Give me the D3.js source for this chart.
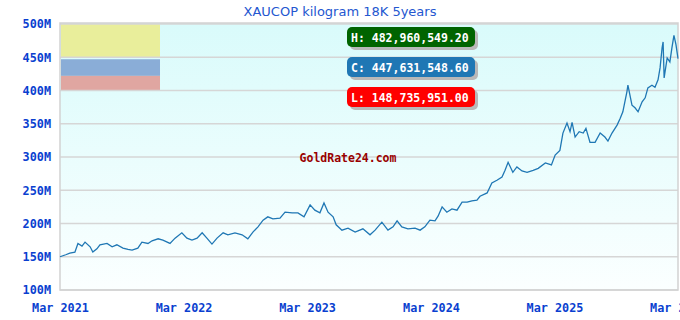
<!doctype html>
<html lang="en">
<head>
<meta charset="utf-8" />
<title>XAUCOP kilogram 18K 5years</title>
<script src="https://d3js.org/d3.v7.min.js"></script>
<style type="text/css">
body{
  margin: 0;
  background-color: #fff;
}
#svg_div{
  width: 680px;
  height: 320px;
}
</style>
</head>
<body>
<div id="svg_div"></div>

<script>
// price series, millions COP
var dates = ["2021-03-01","2021-03-18","2021-03-30","2021-04-14","2021-04-23","2021-05-05","2021-05-14","2021-05-29","2021-06-06","2021-06-18",
  "2021-06-27","2021-07-18","2021-08-02","2021-08-16","2021-09-03","2021-09-18","2021-09-30","2021-10-17","2021-10-29","2021-11-16",
  "2021-11-28","2021-12-16","2021-12-30","2022-01-20","2022-02-04","2022-02-24","2022-03-11","2022-03-26","2022-04-10","2022-04-25",
  "2022-05-09","2022-05-24","2022-06-08","2022-06-26","2022-07-10","2022-07-31","2022-08-21","2022-09-07","2022-09-22","2022-10-07",
  "2022-10-22","2022-11-05","2022-11-20","2022-12-11","2022-12-26","2023-01-16","2023-02-02","2023-02-20","2023-03-10","2023-03-24",
  "2023-04-08","2023-04-20","2023-05-02","2023-05-17","2023-05-26","2023-06-12","2023-06-30","2023-07-21","2023-08-13","2023-09-03",
  "2023-09-18","2023-10-08","2023-10-26","2023-11-10","2023-11-22","2023-12-06","2023-12-24","2024-01-14","2024-01-29","2024-02-12",
  "2024-02-27","2024-03-13","2024-03-22","2024-04-03","2024-04-17","2024-05-02","2024-05-17","2024-06-01","2024-06-16","2024-06-30",
  "2024-07-15","2024-07-24","2024-08-14","2024-08-28","2024-09-12","2024-09-27","2024-10-06","2024-10-15","2024-10-29","2024-11-10",
  "2024-11-25","2024-12-10","2024-12-28","2025-01-12","2025-02-02","2025-02-20","2025-03-03","2025-03-17","2025-03-26","2025-04-07",
  "2025-04-16","2025-04-22","2025-05-01","2025-05-13","2025-05-25","2025-06-02","2025-06-14","2025-06-29","2025-07-14","2025-07-28",
  "2025-08-06","2025-08-18","2025-09-02","2025-09-11","2025-09-19","2025-10-01","2025-10-04","2025-10-16","2025-10-25","2025-11-03",
  "2025-11-15","2025-11-24","2025-12-02","2025-12-14","2025-12-23","2026-01-01","2026-01-07","2026-01-13","2026-01-16","2026-01-19",
  "2026-01-28","2026-02-05","2026-02-11","2026-02-17","2026-02-23","2026-03-01"];
var prices = [150,153,155.5,157,170,166,172,165,157,162,
  168,170,165,168,163,161,160,163,172,170,
  174,177,175,170,178,186,178,175,178,186,
  178,169,178,186,183,186,183,177,187,195,
  205,210,207,208,217,216,216,210,228,220,
  216,231,217,210,198,190,193,187,192,183,
  190,202,190,195,204,195,192,193,190,195,
  205,204,211,225,217,222,220,232,232,234,
  235,241,246,261,265,270,280,292,277,285,
  279,277,280,283,291,288,303,310,336,351,
  338,352,330,338,336,343,322,322,336,330,
  324,336,348,358,368,398,408,378,374,368,
  383,389,404,408,405,416,434,464,473,419,
  449,443,464,483,469,448];

var yTicks = [100,150,200,250,300,350,400,450,500];
var xTicks = ["2021-03-01","2022-03-01","2023-03-01","2024-03-01","2025-03-01","2026-03-01"];
var title = "XAUCOP kilogram 18K 5years";
var statLabels = ["H: 482,960,549.20","C: 447,631,548.60","L: 148,735,951.00"];
var statColours = ["#006400","#1f77b4","#ff0000"];
var bandColours = ["#e9ee9b","#8aadd7","#e0a6a1"];
var bandTops = [500,447,422]; // legend swatches, in M
var bandBottoms = [450,422,400];

var parse = d3.timeParse("%Y-%m-%d");
var data = dates.map(function(d,i){ return {date: parse(d), value: prices[i]}; });

var chartW = 680, chartH = 320;
var mLeft = 60, mRight = 678, mTop = 24, mBottom = 290;

var svg = d3.select("#svg_div").append("svg")
  .attr("width", chartW)
  .attr("height", chartH);

var xScale = d3.scaleTime()
  .domain([parse(xTicks[0]), parse(xTicks[xTicks.length-1])])
  .range([mLeft, mRight]);

var yScale = d3.scaleLinear()
  .domain([100,500])
  .range([mBottom, mTop]);

// background gradient
var grad = svg.append("defs").append("linearGradient")
  .attr("id","bg").attr("x1",0).attr("y1",0).attr("x2",0).attr("y2",1);
grad.append("stop").attr("offset","0%").attr("stop-color","#d9fbfb");
grad.append("stop").attr("offset","100%").attr("stop-color","#fbffff");

svg.append("rect")
  .attr("x", mLeft).attr("y", mTop-1)
  .attr("width", mRight-mLeft).attr("height", mBottom-mTop+1)
  .attr("fill","url(#bg)");

// legend swatches top left
svg.selectAll("rect.band")
  .data(bandColours)
  .enter().append("rect")
  .attr("class","band")
  .attr("x", mLeft+1)
  .attr("y", function(d,i){ return yScale(bandTops[i]); })
  .attr("width", 99)
  .attr("height", function(d,i){ return yScale(bandBottoms[i]) - yScale(bandTops[i]); })
  .attr("fill", function(d){ return d; });

// grid
svg.append("g")
  .selectAll("line")
  .data(yTicks)
  .enter().append("line")
  .attr("x1", mLeft).attr("x2", mRight)
  .attr("y1", function(d){ return yScale(d); })
  .attr("y2", function(d){ return yScale(d); })
  .attr("stroke","#d6d6d6")
  .attr("stroke-width",1.5);

// border
svg.append("path")
  .attr("d","M"+mLeft+","+(mTop-1)+"V"+mBottom+"H"+mRight+"V"+(mTop-1)+"Z")
  .attr("fill","none")
  .attr("stroke","#d2d2d2")
  .attr("stroke-width",1.5);

// axes
var yAxis = d3.axisLeft(yScale)
  .tickValues(yTicks)
  .tickSize(0)
  .tickPadding(9)
  .tickFormat(function(d){ return d + "M"; });

var xAxis = d3.axisBottom(xScale)
  .tickValues(xTicks.map(parse))
  .tickSize(0)
  .tickPadding(14)
  .tickFormat(d3.timeFormat("%b %Y"));

var gy = svg.append("g").attr("transform","translate(" + mLeft + ",0)").call(yAxis);
var gx = svg.append("g").attr("transform","translate(0," + mBottom + ")").call(xAxis);
[gy, gx].forEach(function(g){
  g.select(".domain").remove();
  g.selectAll("text")
    .attr("fill","#0a3fd0")
    .attr("font-family","DejaVu Sans Mono")
    .attr("font-weight","bold")
    .attr("font-size","11.8px");
});

// watermark
svg.append("text")
  .attr("x", 348).attr("y", 162)
  .attr("text-anchor","middle")
  .attr("font-family","DejaVu Sans Mono")
  .attr("font-weight","bold")
  .attr("font-size","11.5px")
  .attr("fill","#990000")
  .text("GoldRate24.com");

// price line
var line = d3.line()
  .x(function(d){ return xScale(d.date); })
  .y(function(d){ return yScale(d.value); });

svg.append("path")
  .datum(data)
  .attr("d", line)
  .attr("fill","none")
  .attr("stroke","#1f77b4")
  .attr("stroke-width",1.3);

// title
svg.append("text")
  .attr("x", 340).attr("y", 16)
  .attr("text-anchor","middle")
  .attr("font-family","DejaVu Sans")
  .attr("font-size","13px")
  .attr("fill","#2457d0")
  .text(title);

// H / C / L pills
var pills = svg.selectAll("g.pill")
  .data(statLabels)
  .enter().append("g")
  .attr("class","pill")
  .attr("transform", function(d,i){ return "translate(347," + (27 + i*30) + ")"; });

pills.append("rect")
  .attr("x",3).attr("y",3)
  .attr("width",128).attr("height",20)
  .attr("rx",5)
  .attr("fill","#b8b8b8");
pills.append("rect")
  .attr("width",128).attr("height",20)
  .attr("rx",5)
  .attr("fill", function(d,i){ return statColours[i]; });
pills.append("text")
  .attr("x",4).attr("y",14.5)
  .attr("font-family","DejaVu Sans Mono")
  .attr("font-weight","bold")
  .attr("font-size","11.5px")
  .attr("fill","#fff")
  .text(function(d){ return d; });
</script>
</body>
</html>
